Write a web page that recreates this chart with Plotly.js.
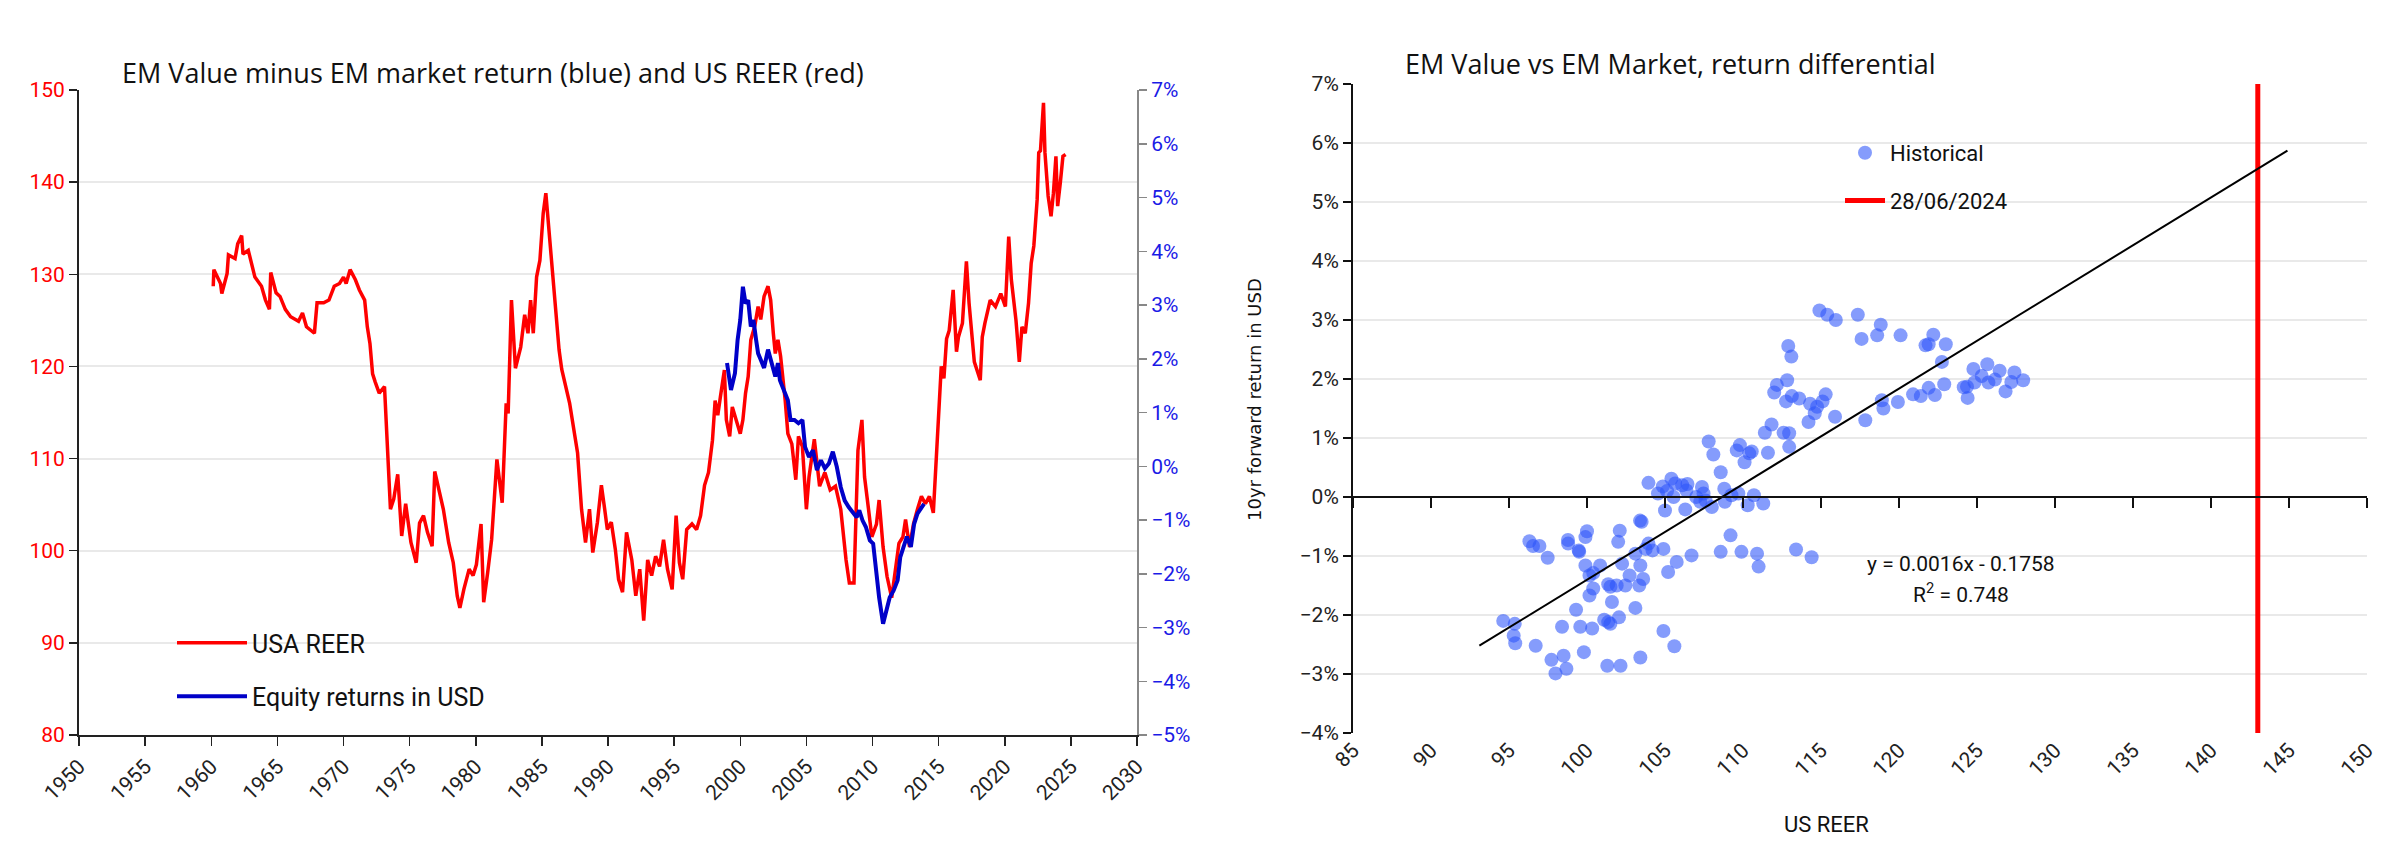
<!DOCTYPE html>
<html><head><meta charset="utf-8">
<script src="https://cdn.plot.ly/plotly-3.0.1.min.js"></script>
<style>html,body{margin:0;padding:0;background:#fff}</style>
</head><body><div id="chart" style="width:2400px;height:866px"></div>
<script>
// ---------- Left chart: USA REER (left axis) and equity return differential (right axis) ----------
const reerYears = [1960.15,1960.2,1960.7,1960.8,1961.2,1961.3,1961.8,1962.0,1962.3,1962.4,1962.8,1963.3,1963.8,1964.1,1964.4,1964.5,1964.9,1965.2,1965.6,1966.0,1966.6,1966.9,1967.2,1967.8,1968.0,1968.5,1968.9,1969.3,1969.7,1970.0,1970.2,1970.5,1970.9,1971.2,1971.6,1971.8,1972.0,1972.2,1972.4,1972.7,1973.1,1973.3,1973.55,1973.8,1974.1,1974.4,1974.7,1975.1,1975.5,1975.75,1976.05,1976.35,1976.7,1976.9,1977.2,1977.55,1977.95,1978.3,1978.6,1978.8,1979.1,1979.5,1979.8,1980.05,1980.4,1980.6,1980.9,1981.2,1981.6,1982.0,1982.3,1982.45,1982.7,1983.0,1983.4,1983.7,1983.95,1984.15,1984.35,1984.6,1984.85,1985.1,1985.3,1985.5,1985.7,1985.95,1986.3,1986.5,1986.8,1987.1,1987.5,1987.7,1988.0,1988.3,1988.6,1988.85,1989.2,1989.5,1989.75,1989.95,1990.25,1990.55,1990.8,1991.1,1991.4,1991.8,1992.1,1992.4,1992.7,1993.0,1993.3,1993.6,1993.9,1994.2,1994.5,1994.85,1995.15,1995.4,1995.65,1995.95,1996.35,1996.7,1997.0,1997.3,1997.6,1997.9,1998.1,1998.3,1998.5,1998.8,1998.95,1999.2,1999.4,1999.7,2000.0,2000.2,2000.4,2000.6,2000.8,2001.1,2001.35,2001.55,2001.8,2002.1,2002.3,2002.5,2002.65,2002.85,2003.05,2003.4,2003.6,2003.9,2004.2,2004.4,2004.7,2005.0,2005.2,2005.6,2006.0,2006.4,2006.8,2007.2,2007.6,2008.0,2008.25,2008.6,2008.9,2009.2,2009.4,2009.7,2009.95,2010.3,2010.5,2010.8,2011.1,2011.45,2011.7,2012.0,2012.3,2012.5,2012.8,2013.1,2013.4,2013.7,2014.0,2014.3,2014.6,2014.75,2015.0,2015.2,2015.4,2015.6,2015.8,2016.1,2016.35,2016.5,2016.8,2017.1,2017.3,2017.5,2017.7,2018.15,2018.3,2018.5,2018.9,2019.3,2019.7,2020.05,2020.3,2020.5,2020.7,2020.85,2021.1,2021.3,2021.55,2021.8,2022.0,2022.2,2022.45,2022.57,2022.7,2022.93,2023.04,2023.28,2023.5,2023.68,2023.87,2024.0,2024.2,2024.4,2024.6];
const reerValues = [128.7,130.5,129.0,127.9,130.1,132.1,131.7,133.3,134.2,132.2,132.6,129.7,128.7,127.2,126.2,130.2,128.0,127.6,126.2,125.4,124.9,125.8,124.3,123.6,126.9,126.9,127.2,128.7,129.0,129.7,129.0,130.5,129.4,128.3,127.2,124.3,122.5,119.2,118.3,117.1,117.8,110.9,104.5,105.6,108.3,101.6,105.1,100.9,98.7,103.0,103.8,102.0,100.5,108.6,106.6,104.5,100.9,98.7,95.1,93.8,95.8,98.0,97.3,98.5,102.9,94.4,97.6,101.2,109.9,105.2,116.0,114.9,127.2,119.8,122.1,125.6,123.6,127.2,123.6,129.7,131.5,136.6,138.8,135.2,132.3,127.2,121.8,119.7,117.8,116.0,112.4,110.6,104.5,100.9,104.5,99.8,103.1,107.1,104.5,102.3,103.1,100.2,96.9,95.5,102.0,99.0,95.1,98.0,92.4,99.0,97.3,99.4,98.3,101.2,98.0,95.8,103.8,98.7,96.9,102.3,102.9,102.3,103.8,107.1,108.5,112.0,116.3,114.7,116.7,119.6,114.2,112.4,115.6,114.2,112.7,114.2,117.1,118.9,122.9,124.4,126.5,125.1,127.6,128.7,127.2,123.6,121.4,122.9,121.1,116.3,112.7,111.6,107.7,112.4,111.3,104.5,108.0,112.1,107.0,108.5,106.6,107.0,104.5,99.0,96.5,96.5,110.9,114.2,108.0,104.5,101.5,102.9,105.5,100.4,97.2,94.9,97.9,100.8,101.5,103.4,100.4,102.9,104.5,105.9,105.1,105.9,104.1,107.7,114.9,120.0,118.7,123.0,123.9,128.3,121.6,123.2,124.7,131.4,126.9,123.2,120.5,118.5,123.2,124.7,127.2,126.5,127.9,126.5,134.1,129.4,127.2,125.0,120.5,124.3,123.6,126.9,131.2,133.1,138.1,143.2,143.4,148.6,143.2,138.5,136.3,138.8,142.8,137.4,139.9,142.8,143.0];

const equityYears = [1999.0,1999.3,1999.6,1999.8,2000.0,2000.2,2000.4,2000.6,2000.8,2001.0,2001.2,2001.35,2001.55,2001.8,2002.1,2002.3,2002.5,2002.65,2002.85,2003.0,2003.6,2003.8,2004.1,2004.4,2004.7,2004.9,2005.2,2005.5,2005.8,2006.1,2006.4,2006.7,2007.0,2007.3,2007.6,2007.9,2008.2,2008.5,2008.8,2009.0,2009.25,2009.5,2009.8,2010.05,2010.3,2010.5,2010.8,2011.05,2011.3,2011.6,2011.9,2012.1,2012.35,2012.6,2012.9,2013.15,2013.4,2013.7,2013.9];
const equityValues = [1.92,1.42,1.73,2.35,2.72,3.34,3.03,3.09,2.60,2.72,2.35,2.10,1.98,1.83,2.17,1.98,1.86,1.67,1.92,1.60,1.23,0.86,0.86,0.80,0.86,0.36,0.17,0.30,-0.07,0.11,-0.04,0.05,0.27,-0.01,-0.39,-0.64,-0.76,-0.85,-0.95,-0.82,-1.01,-1.13,-1.38,-1.44,-2.00,-2.44,-2.93,-2.68,-2.44,-2.31,-2.12,-1.69,-1.50,-1.31,-1.50,-1.07,-0.88,-0.76,-0.70];

const leftXTicks = [1950,1955,1960,1965,1970,1975,1980,1985,1990,1995,2000,2005,2010,2015,2020,2025,2030];

// ---------- Right chart: US REER vs 10yr forward return differential ----------
const histREER = [114.9,115.4,115.95,117.36,118.83,117.6,118.6,120.1,122.2,121.9,121.7,123.0,122.75,112.9,113.1,124.77,125.66,126.45,127.4,127.96,126.15,125.73,125.3,124.84,127.2,126.83,124.15,124.4,124.36,122.9,122.3,121.9,121.4,120.9,119.93,119.0,118.9,117.84,115.9,115.3,115.1,114.75,114.6,114.2,114.3,113.6,113.13,112.76,112.83,112.17,112.0,111.83,111.4,112.6,112.96,112.96,111.6,110.56,110.4,110.1,109.8,109.6,107.8,108.1,108.57,103.94,104.55,104.86,105.41,105.65,105.13,105.55,106.1,106.44,106.37,107.37,107.47,107.0,107.26,107.6,108.8,109.26,109.7,110.7,108.84,110.3,111.3,108.0,105.0,106.3,103.4,103.5,102.1,100.0,109.2,98.78,99.9,99.47,99.5,102.0,103.94,104.2,104.9,103.76,103.42,103.1,102.73,103.6,103.35,102.46,101.9,101.5,101.36,100.84,100.4,100.16,99.9,100.4,100.16,102.25,101.6,103.1,99.3,98.4,99.57,100.33,101.1,101.36,101.5,102.05,105.2,105.75,106.7,108.57,109.9,110.9,111.0,113.4,114.4,104.9,105.6,98.5,98.68,99.8,101.3,102.15,103.42,94.63,95.37,95.3,95.4,96.31,96.54,96.95,97.48,98.79,96.71,97.72,97.98];
const histReturn = [3.16,3.09,3.0,3.09,2.92,2.68,2.74,2.74,2.75,2.59,2.57,2.59,2.29,2.56,2.38,2.17,2.25,2.14,2.11,1.98,1.99,1.94,2.05,1.94,1.95,1.79,1.86,1.68,1.87,1.91,1.73,1.85,1.71,1.74,1.61,1.50,1.64,1.30,1.36,1.74,1.62,1.53,1.42,1.27,1.58,1.67,1.71,1.62,1.98,1.90,1.77,1.23,1.09,1.09,1.08,0.85,0.75,0.77,0.74,0.59,0.88,0.79,0.94,0.72,0.42,0.24,0.06,0.18,0.31,0.23,0.10,0.0,0.20,0.22,0.11,0.17,0.06,0.0,-0.08,-0.06,0.14,0.03,0.06,0.03,-0.08,-0.14,-0.11,-0.17,-0.23,-0.21,-0.40,-0.42,-0.57,-0.58,-0.65,-0.73,-0.68,-0.905,-0.93,-0.76,-0.79,-0.905,-0.88,-0.88,-1.16,-0.96,-1.33,-1.39,-1.50,-1.50,-1.50,-1.52,-1.48,-1.16,-1.29,-1.33,-1.16,-1.55,-1.67,-1.13,-1.78,-1.88,-1.91,-2.20,-2.20,-2.23,-2.08,-2.12,-2.15,-2.04,-1.27,-1.10,-0.99,-0.93,-0.93,-0.96,-1.18,-0.89,-1.02,-2.27,-2.53,-2.69,-2.91,-2.63,-2.86,-2.86,-2.72,-2.10,-2.15,-2.35,-2.48,-0.75,-0.83,-0.83,-1.03,-0.79,-2.52,-2.76,-2.99];
const trendREER = [93.1, 144.9];
const trendReturn = [-2.52, 5.87];
const currentREER = 143;
const currentLabel = '28/06/2024';
const rightXTicks = [85,90,95,100,105,110,115,120,125,130,135,140,145,150];
const equationText = 'y = 0.0016x - 0.1758';
const r2Text = 'R<sup>2</sup> = 0.748';

// ---------- Geometry (pixels -> paper fractions) ----------
const W = 2400, H = 866;
const px = v => v / W;
const py = v => (H - v) / H;
const leftDom = [px(79), px(1137)];
const leftYDom = [py(735), py(90)];
const rightDom = [px(1353), px(2367)];
const rightYDom = [py(733), py(84)];
const rY = [-4, 7];
const zeroPos = rightYDom[0] + (0 - rY[0]) / (rY[1] - rY[0]) * (rightYDom[1] - rightYDom[0]);

const tickFont = {family: 'Roboto, "DejaVu Sans", sans-serif', size: 21, color: '#222'};
const titleFont = {family: '"Open Sans", "Noto Sans", sans-serif', size: 27, color: '#111'};
const grid = '#e9e9e9';

const traces = [
  {x: reerYears, y: reerValues, type: 'scatter', mode: 'lines', name: 'USA REER',
   line: {color: '#ff0000', width: 3.5}, xaxis: 'x', yaxis: 'y', legend: 'legend', legendgroup: 'a'},
  {x: equityYears, y: equityValues, type: 'scatter', mode: 'lines', name: 'Equity returns in USD',
   line: {color: '#0000c8', width: 4}, xaxis: 'x', yaxis: 'y3', legend: 'legend', legendgroup: 'b'},
  {x: histREER, y: histReturn, type: 'scatter', mode: 'markers', name: 'Historical',
   marker: {color: 'rgba(45,85,250,0.58)', size: 14, line: {width: 0}},
   xaxis: 'x2', yaxis: 'y2', legend: 'legend2', legendgroup: 'c'},
  {x: [currentREER, currentREER], y: rY, type: 'scatter', mode: 'lines', name: currentLabel,
   line: {color: '#ff0000', width: 5}, xaxis: 'x2', yaxis: 'y2', legend: 'legend2', legendgroup: 'd'},
  {x: trendREER, y: trendReturn, type: 'scatter', mode: 'lines', name: 'Trend', showlegend: false,
   line: {color: '#000', width: 2}, xaxis: 'x3', yaxis: 'y2'}
];

const layout = {
  width: W, height: H,
  margin: {l: 0, r: 0, t: 0, b: 0},
  paper_bgcolor: '#fff', plot_bgcolor: 'rgba(0,0,0,0)',
  font: tickFont,
  showlegend: true,
  xaxis: {domain: leftDom, range: [1950, 2030], tickvals: leftXTicks, tickformat: 'd', tickangle: -45,
          showgrid: false, zeroline: false, showline: true, linecolor: '#222', linewidth: 2,
          ticks: 'outside', ticklen: 9, tickwidth: 1.5, tickcolor: '#222', anchor: 'y',
          tickfont: tickFont, automargin: false},
  yaxis: {domain: leftYDom, range: [80, 150], dtick: 10, showgrid: true, gridcolor: grid, gridwidth: 2,
          zeroline: false, showline: true, linecolor: '#222', linewidth: 2, ticks: 'outside', ticklen: 8,
          tickwidth: 1.5, tickcolor: '#222', tickfont: Object.assign({}, tickFont, {color: '#ff0000'}),
          anchor: 'x', automargin: false},
  yaxis3: {overlaying: 'y', side: 'right', anchor: 'x', range: [-5, 7], dtick: 1, ticksuffix: '%',
           showgrid: false, zeroline: false, showline: true, linecolor: '#888', linewidth: 2,
           ticks: 'outside', ticklen: 8, tickwidth: 1.5, tickcolor: '#888',
           tickfont: Object.assign({}, tickFont, {color: '#1a1ae6'}), automargin: false},
  xaxis2: {domain: rightDom, range: [85, 150], tickvals: rightXTicks, tickangle: -45, anchor: 'y2',
           showgrid: false, zeroline: false, showline: false, ticks: '', tickfont: tickFont, automargin: false},
  xaxis3: {overlaying: 'x2', anchor: 'free', position: zeroPos, range: [85, 150], tickvals: rightXTicks,
           showticklabels: false, showgrid: false, zeroline: false, showline: true, linecolor: '#111',
           linewidth: 2, ticks: 'outside', ticklen: 10, tickwidth: 1.5, tickcolor: '#111', automargin: false},
  yaxis2: {domain: rightYDom, range: rY, dtick: 1, ticksuffix: '%', anchor: 'x2', showgrid: true,
           gridcolor: grid, gridwidth: 2, zeroline: false, showline: true, linecolor: '#111', linewidth: 2,
           ticks: 'outside', ticklen: 8, tickwidth: 1.5, tickcolor: '#111', tickfont: tickFont, automargin: false},
  legend: {x: px(172), y: py(620), xanchor: 'left', yanchor: 'top', bgcolor: 'rgba(0,0,0,0)',
           itemwidth: 70,
           font: {family: 'Roboto, sans-serif', size: 25, color: '#111'}, tracegroupgap: 18, traceorder: 'grouped'},
  legend2: {x: px(1840), y: py(132), xanchor: 'left', yanchor: 'top', bgcolor: 'rgba(0,0,0,0)',
            itemwidth: 40,
            font: {family: 'Roboto, sans-serif', size: 22, color: '#111'}, tracegroupgap: 16, traceorder: 'grouped'},
  annotations: [
    {text: 'EM Value minus EM market return (blue) and US REER (red)', xref: 'paper', yref: 'paper',
     x: px(120), y: py(72), xanchor: 'left', yanchor: 'middle', showarrow: false, font: titleFont},
    {text: 'EM Value vs EM Market, return differential', xref: 'paper', yref: 'paper',
     x: px(1403), y: py(64), xanchor: 'left', yanchor: 'middle', showarrow: false, font: titleFont},
    {text: '10yr forward return in USD', xref: 'paper', yref: 'paper', x: px(1254), y: py(400),
     xanchor: 'center', yanchor: 'middle', textangle: -90, showarrow: false,
     font: {family: '"DejaVu Sans", sans-serif', size: 18, color: '#111'}},
    {text: 'US REER', xref: 'paper', yref: 'paper', x: px(1826), y: py(824), xanchor: 'center',
     yanchor: 'middle', showarrow: false, font: {family: 'Roboto, sans-serif', size: 22, color: '#111'}},
    {text: equationText, xref: 'x2', yref: 'y2', x: 124.0, y: -1.13, xanchor: 'center', yanchor: 'middle',
     showarrow: false, font: {family: 'Roboto, sans-serif', size: 21, color: '#111'}},
    {text: r2Text, xref: 'x2', yref: 'y2', x: 124.0, y: -1.63, xanchor: 'center', yanchor: 'middle',
     showarrow: false, font: {family: 'Roboto, sans-serif', size: 21, color: '#111'}}
  ]
};

Plotly.newPlot('chart', traces, layout, {displayModeBar: false, staticPlot: true});
</script>
</body></html>
